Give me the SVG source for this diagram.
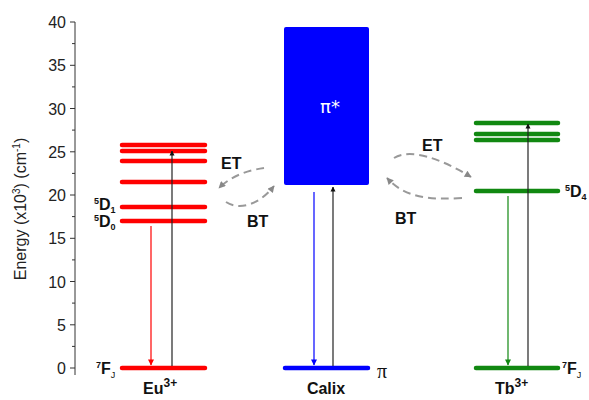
<svg xmlns="http://www.w3.org/2000/svg" width="589" height="400" viewBox="0 0 589 400">
<style>
.tick{stroke:#333;stroke-width:1}
.tl{font-family:"Liberation Sans",Arial,sans-serif;font-size:16px;fill:#222;text-anchor:end}
.lvl{stroke-width:4.5;stroke-linecap:round;fill:none}
.eu{stroke:#ff0000}
.tb{stroke:#118811}
.ca{stroke:#0000ff}
.ar{stroke-width:1.2;fill:none}
.lab{font-family:"Liberation Sans",Arial,sans-serif;font-weight:bold;font-size:16px;fill:#111}
.sm{font-size:9px}
.dash{stroke:#999;stroke-width:2;stroke-dasharray:8 5;fill:none}
</style>
<defs>
<marker id="mk" viewBox="0 0 10 10" refX="9" refY="5" markerWidth="5" markerHeight="7" orient="auto" markerUnits="userSpaceOnUse"><path d="M0,0 L10,5 L0,10 z" fill="#111"/></marker>
<marker id="mr" viewBox="0 0 10 10" refX="9" refY="5" markerWidth="8" markerHeight="6" orient="auto" markerUnits="userSpaceOnUse"><path d="M0,0 L10,5 L0,10 z" fill="#ff0000"/></marker>
<marker id="mb" viewBox="0 0 10 10" refX="9" refY="5" markerWidth="8" markerHeight="6" orient="auto" markerUnits="userSpaceOnUse"><path d="M0,0 L10,5 L0,10 z" fill="#0000ff"/></marker>
<marker id="mg" viewBox="0 0 10 10" refX="9" refY="5" markerWidth="8" markerHeight="6" orient="auto" markerUnits="userSpaceOnUse"><path d="M0,0 L10,5 L0,10 z" fill="#118811"/></marker>
<marker id="mgr" viewBox="0 0 10 10" refX="9" refY="5" markerWidth="9" markerHeight="7" orient="auto" markerUnits="userSpaceOnUse"><path d="M0,0 L10,5 L0,10 z" fill="#888"/></marker>
</defs>
<rect width="589" height="400" fill="#fff"/>
<g id="axis">
<line class="tick" x1="75" y1="22" x2="75" y2="375"/>
<g class="tick">
<line x1="70" y1="22" x2="75" y2="22"/><line x1="70" y1="65.3" x2="75" y2="65.3"/><line x1="70" y1="108.5" x2="75" y2="108.5"/><line x1="70" y1="151.8" x2="75" y2="151.8"/><line x1="70" y1="195" x2="75" y2="195"/><line x1="70" y1="238.3" x2="75" y2="238.3"/><line x1="70" y1="281.5" x2="75" y2="281.5"/><line x1="70" y1="324.8" x2="75" y2="324.8"/><line x1="70" y1="368" x2="75" y2="368"/>
<line x1="72" y1="43.6" x2="75" y2="43.6"/><line x1="72" y1="86.9" x2="75" y2="86.9"/><line x1="72" y1="130.1" x2="75" y2="130.1"/><line x1="72" y1="173.4" x2="75" y2="173.4"/><line x1="72" y1="216.6" x2="75" y2="216.6"/><line x1="72" y1="259.9" x2="75" y2="259.9"/><line x1="72" y1="303.1" x2="75" y2="303.1"/><line x1="72" y1="346.4" x2="75" y2="346.4"/>
</g>
<text class="tl" x="66" y="28">40</text><text class="tl" x="66" y="71.3">35</text><text class="tl" x="66" y="114.5">30</text><text class="tl" x="66" y="157.8">25</text><text class="tl" x="66" y="201">20</text><text class="tl" x="66" y="244.3">15</text><text class="tl" x="66" y="287.5">10</text><text class="tl" x="66" y="330.8">5</text><text class="tl" x="66" y="374">0</text>
<text transform="translate(26,209) rotate(-90)" text-anchor="middle" font-family="Liberation Sans,Arial,sans-serif" font-size="16" fill="#222">Energy (x10<tspan dy="-6" font-size="10">3</tspan><tspan dy="6">) (cm</tspan><tspan dy="-6" font-size="10">-1</tspan><tspan dy="6">)</tspan></text>
</g>
<g id="eu">
<line class="lvl eu" x1="122" y1="145" x2="205" y2="145"/>
<line class="lvl eu" x1="122" y1="151" x2="205" y2="151"/>
<line class="lvl eu" x1="122" y1="161" x2="205" y2="161"/>
<line class="lvl eu" x1="122" y1="182" x2="205" y2="182"/>
<line class="lvl eu" x1="122" y1="207" x2="205" y2="207"/>
<line class="lvl eu" x1="122" y1="221" x2="205" y2="221"/>
<line class="lvl eu" x1="122" y1="368" x2="205" y2="368"/>
<line class="ar" stroke="#ff0000" x1="151" y1="226" x2="151" y2="365" marker-end="url(#mr)"/>
<line class="ar" stroke="#222" x1="172" y1="366" x2="172" y2="151" marker-end="url(#mk)"/>
<text class="lab" x="94" y="210"><tspan class="sm" dy="-6">5</tspan><tspan dy="6">D</tspan><tspan class="sm" dy="3">1</tspan></text>
<text class="lab" x="94" y="227"><tspan class="sm" dy="-6">5</tspan><tspan dy="6">D</tspan><tspan class="sm" dy="3">0</tspan></text>
<text class="lab" x="96" y="374"><tspan class="sm" dy="-6">7</tspan><tspan dy="6">F</tspan><tspan class="sm" font-weight="normal" dy="4">J</tspan></text>
<text class="lab" x="143" y="394" font-size="18">Eu<tspan dy="-7" font-size="12">3+</tspan></text>
</g>
<g id="calix">
<rect x="284" y="27" width="85" height="158" rx="2" fill="#0000ff"/>
<text x="330" y="113" text-anchor="middle" font-family="DejaVu Sans,sans-serif" font-size="18" fill="#fff">π*</text>
<line class="lvl ca" x1="285" y1="368" x2="368" y2="368"/>
<line class="ar" stroke="#0000ff" x1="314" y1="192" x2="314" y2="365" marker-end="url(#mb)"/>
<line class="ar" stroke="#222" x1="333" y1="366" x2="333" y2="187" marker-end="url(#mk)"/>
<text x="377" y="378" font-family="Liberation Serif,serif" font-size="20" fill="#111">π</text>
<text class="lab" x="326" y="394" font-size="18" text-anchor="middle">Calix</text>
</g>
<g id="tb">
<line class="lvl tb" x1="476" y1="123" x2="558" y2="123"/>
<line class="lvl tb" x1="476" y1="134" x2="558" y2="134"/>
<line class="lvl tb" x1="476" y1="140" x2="558" y2="140"/>
<line class="lvl tb" x1="476" y1="191" x2="558" y2="191"/>
<line class="lvl tb" x1="476" y1="368" x2="558" y2="368"/>
<line class="ar" stroke="#118811" x1="508" y1="196" x2="508" y2="365" marker-end="url(#mg)"/>
<line class="ar" stroke="#222" x1="528" y1="366" x2="528" y2="124" marker-end="url(#mk)"/>
<text class="lab" x="565" y="197"><tspan class="sm" dy="-6">5</tspan><tspan dy="6">D</tspan><tspan class="sm" dy="3">4</tspan></text>
<text class="lab" x="562" y="374"><tspan class="sm" dy="-6">7</tspan><tspan dy="6">F</tspan><tspan class="sm" font-weight="normal" dy="4">J</tspan></text>
<text class="lab" x="495" y="394" font-size="18">Tb<tspan dy="-7" font-size="12">3+</tspan></text>
</g>
<g id="connectors">
<path class="dash" d="M264,168 C250,170 232,175 219,188" marker-end="url(#mgr)"/>
<path class="dash" d="M226,202 C240,211 260,204 274,186" marker-end="url(#mgr)"/>
<path class="dash" d="M394,158 C410,148 440,158 471,177" marker-end="url(#mgr)"/>
<path class="dash" d="M462,198 C430,200 405,198 387,178" marker-end="url(#mgr)"/>
<text class="lab" x="221" y="169">ET</text>
<text class="lab" x="247" y="227">BT</text>
<text class="lab" x="422" y="151">ET</text>
<text class="lab" x="395" y="224">BT</text>
</g>
</svg>
